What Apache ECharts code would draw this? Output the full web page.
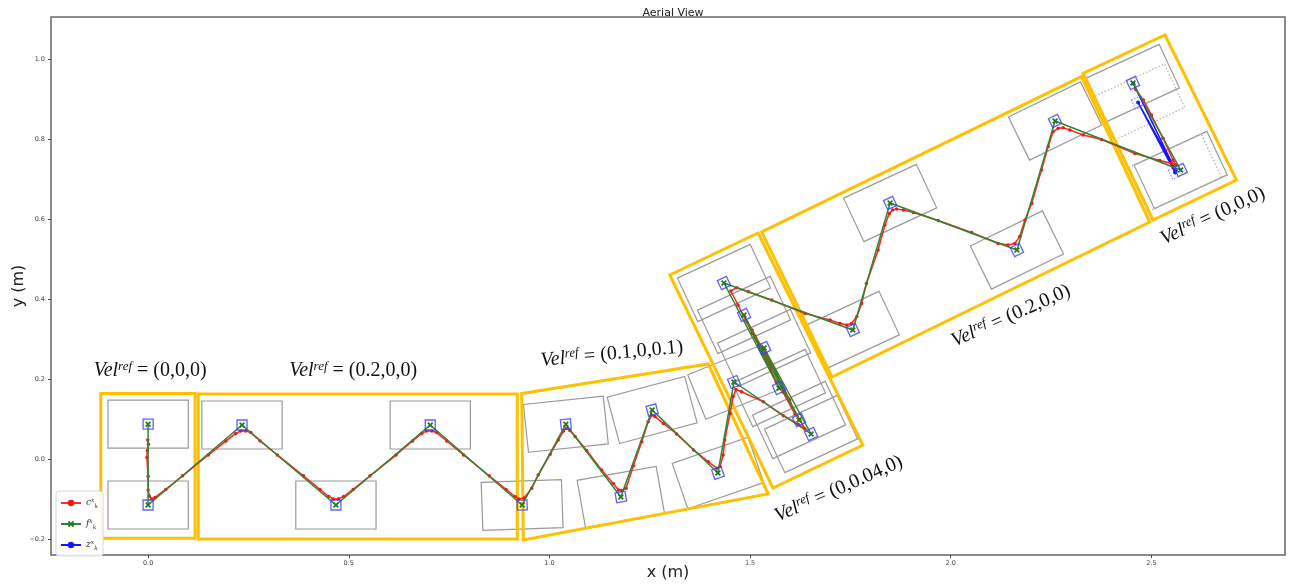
<!DOCTYPE html>
<html><head><meta charset="utf-8">
<script src="https://cdn.jsdelivr.net/npm/echarts@6/dist/echarts.min.js"></script>
<style>html,body{margin:0;padding:0;background:#fff}#c{width:1290px;height:586px}</style>
</head><body><div id="c"></div><script>
// ---- data (metres) ----
const X_TICKS = [0, 0.5, 1.0, 1.5, 2.0, 2.5];
const Y_TICKS = [-0.2, 0.0, 0.2, 0.4, 0.6, 0.8, 1.0];

// footstep targets f_k (x, y, yaw in degrees)
const FOOT_X = [0.000, 0.000, 0.234, 0.468, 0.703, 0.932, 1.041, 1.178, 1.256, 1.420, 1.460, 1.652, 1.535, 1.622, 1.485, 1.572, 1.435, 1.756, 1.849, 2.165, 2.260, 2.573, 2.454];
const FOOT_Y = [0.087, -0.115, 0.085, -0.115, 0.085, -0.115, 0.087, -0.095, 0.1225, -0.035, 0.1925, 0.0625, 0.2775, 0.0975, 0.360, 0.1775, 0.440, 0.3225, 0.640, 0.5225, 0.845, 0.7225, 0.940];
const FOOT_YAW = [0, 0, 0, 0, 0, 2, 6, 10, 15, 19, 22, 25, 25, 25, 25, 25, 25, 25, 25, 26, 26, 25, 25];

// CoM trajectory c_k
const COM_X = [-0.001,0.001,-0.002,-0.003,0.000,0.000,0.003,0.009,0.017,0.044,
0.086,0.150,0.194,0.218,0.231,0.243,0.256,0.279,0.322,0.387,
0.428,0.450,0.462,0.474,0.487,0.511,0.553,0.618,0.659,0.682,
0.694,0.707,0.719,0.744,0.786,0.850,0.892,0.914,0.924,0.937,
0.956,0.972,1.002,1.022,1.035,1.043,1.051,1.064,1.093,1.130,
1.159,1.172,1.180,1.191,1.209,1.230,1.246,1.255,1.263,1.284,
1.317,1.359,1.396,1.417,1.425,1.433,1.437,1.450,1.458,1.465,
1.479,1.533,1.583,1.620,1.637,
1.624,1.587,1.550,1.540,1.550,1.582,1.612,1.599,1.555,1.505,
1.492,1.512,1.540,1.565,1.550,1.505,1.470,1.452,
1.467,1.496,1.554,1.637,1.699,1.724,1.741,1.753,1.766,1.778,
1.790,1.819,1.836,1.847,1.855,1.865,1.882,1.907,1.969,2.052,
2.118,2.143,2.160,2.172,2.185,2.202,2.226,2.243,2.255,2.268,
2.280,2.297,2.330,2.376,2.459,2.521,2.550,2.561,2.554,2.529,
2.500,2.480,2.461];
const COM_Y = [0.0475,0.037,0.021,0.004,-0.044,-0.0775,-0.0925,-0.100,-0.096,-0.076,
-0.042,0.010,0.045,0.064,0.070,0.070,0.066,0.045,0.010,-0.042,
-0.076,-0.094,-0.100,-0.100,-0.094,-0.076,-0.042,0.010,0.045,0.064,
0.070,0.070,0.066,0.045,0.010,-0.042,-0.076,-0.094,-0.100,-0.0975,
-0.073,-0.040,0.012,0.0475,0.070,0.077,0.071,0.056,0.021,-0.0275,
-0.061,-0.0775,-0.079,-0.073,-0.0175,0.043,0.093,0.110,0.106,0.089,
0.0625,0.0225,-0.007,-0.023,-0.019,0.010,0.0475,0.114,0.156,0.174,
0.168,0.143,0.108,0.087,0.075,
0.0975,0.165,0.235,0.2625,0.2425,0.1675,0.1125,0.1475,0.2325,0.3225,
0.3425,0.3075,0.2475,0.1925,0.2275,0.315,0.385,0.420,
0.428,0.418,0.3975,0.364,0.3475,0.339,0.335,0.339,0.356,0.389,
0.439,0.5225,0.585,0.614,0.6225,0.625,0.6225,0.616,0.596,0.566,
0.539,0.535,0.539,0.556,0.5975,0.639,0.7225,0.781,0.818,0.827,
0.828,0.8225,0.810,0.799,0.764,0.746,0.739,0.735,0.7475,0.802,
0.860,0.8975,0.924];

// z_k (final stop)
const ZMP_X = [2.455, 2.561, 2.467, 2.559];
const ZMP_Y = [0.939, 0.720, 0.891, 0.716];
// planned (dotted) regions
const PLAN_X = [2.467, 2.559];
const PLAN_Y = [0.891, 0.716];
const PLAN_YAW = [25, 25];

const REGION_W = 0.2, REGION_H = 0.12;

// annotation boxes: 4 corners each (x0,y0,x1,y1,...)
const BOX_STAND_START = [-0.118,0.164, 0.117,0.164, 0.117,-0.198, -0.118,-0.198];
const BOX_FWD_1       = [0.125,0.1625, 0.920,0.1625, 0.920,-0.200, 0.125,-0.200];
const BOX_TURN        = [0.931,0.164, 1.396,0.2375, 1.545,-0.0875, 0.935,-0.2025];
const BOX_LATERAL     = [1.300,0.460, 1.520,0.565, 1.781,0.035, 1.557,-0.0725];
const BOX_FWD_2       = [1.529,0.568, 2.326,0.956, 2.496,0.5925, 1.704,0.205];
const BOX_STAND_END   = [2.330,0.964, 2.534,1.060, 2.712,0.6975, 2.504,0.5975];

const VEL_LABELS = ['(0,0,0)', '(0.2,0,0)', '(0.1,0,0.1)', '(0,0.04,0)', '(0.2,0,0)', '(0,0,0)'];
const LABEL_X = [0.005, 0.511, 1.156, 1.721, 2.150, 2.653];
const LABEL_Y = [0.220, 0.220, 0.2625, -0.075, 0.3575, 0.6075];
const LABEL_ROT = [0, 0, 5.5, 24, 24, 25];

// ---- build ----
const pairs = (xs, ys) => xs.map((x, i) => [x, ys[i]]);
const X_PATH = 'path://M2,0L5,3L8,0L10,2L7,5L10,8L8,10L5,7L2,10L0,8L3,5L0,2Z';

function regionSeries(xs, ys, yaws, stroke, dash, z) {
  return {
    type: 'custom', z, silent: true, clip: false,
    data: xs.map((x, i) => [x, ys[i], yaws[i]]),
    encode: { x: 0, y: 1 },
    renderItem(params, api) {
      const cx = api.value(0), cy = api.value(1), a = api.value(2) * Math.PI / 180;
      const c = Math.cos(a), s = Math.sin(a), hw = REGION_W / 2, hh = REGION_H / 2;
      const pts = [[-hw,-hh],[hw,-hh],[hw,hh],[-hw,hh]].map(([u, v]) => api.coord([cx + u*c - v*s, cy + u*s + v*c]));
      return { type: 'polygon', shape: { points: pts }, style: { fill: 'none', stroke, lineWidth: 1.2, lineDash: dash } };
    }
  };
}

const BOXES = [BOX_STAND_START, BOX_FWD_1, BOX_TURN, BOX_LATERAL, BOX_FWD_2, BOX_STAND_END];

const chart = echarts.init(document.getElementById('c'), null, { renderer: 'canvas' });
const tickFmt = v => v.toFixed(1).replace('-', '\u2212');

chart.setOption({
  animation: false,
  backgroundColor: '#fff',
  title: { text: 'Aerial View', left: 668, top: 3, textAlign: 'center',
    textStyle: { fontSize: 11, fontWeight: 'normal', color: '#222', fontFamily: 'DejaVu Sans' } },
  grid: { left: 51, right: 5, top: 17, bottom: 31, outerBoundsMode: 'none', containLabel: false,
    show: true, borderColor: '#666', borderWidth: 1.5, backgroundColor: 'transparent' },
  xAxis: {
    type: 'value', min: -0.242, max: 2.833,
    name: 'x (m)', nameLocation: 'middle', nameGap: 10, nameMoveOverlap: false,
    nameTextStyle: { fontSize: 16, color: '#222', fontFamily: 'DejaVu Sans' },
    axisLine: { show: false, onZero: false }, splitLine: { show: false },
    axisTick: { show: true, customValues: X_TICKS, length: 3, lineStyle: { color: '#444' } },
    axisLabel: { customValues: X_TICKS, formatter: tickFmt, fontSize: 6.5, color: '#444', margin: 5, fontFamily: 'DejaVu Sans' }
  },
  yAxis: {
    type: 'value', min: -0.24, max: 1.105,
    name: 'y (m)', nameLocation: 'middle', nameGap: 24, nameRotate: 90, nameMoveOverlap: false,
    nameTextStyle: { fontSize: 16, color: '#222', fontFamily: 'DejaVu Sans' },
    axisLine: { show: false, onZero: false }, splitLine: { show: false },
    axisTick: { show: true, customValues: Y_TICKS, length: 3, lineStyle: { color: '#444' } },
    axisLabel: { customValues: Y_TICKS, formatter: tickFmt, fontSize: 6.5, color: '#444', margin: 6, fontFamily: 'DejaVu Sans' }
  },
  legend: {
    data: ['c', 'f', 'z'], orient: 'vertical', left: 56, top: 491,
    itemWidth: 20, itemHeight: 8, itemGap: 9, padding: [6, 5, 5, 4],
    borderColor: '#d8d8d8', borderWidth: 1, borderRadius: 3, backgroundColor: 'rgba(255,255,255,0.9)',
    formatter: n => `{m|${n}}{s|x}{b|k}`,
    textStyle: { rich: {
      m: { fontSize: 9, fontStyle: 'italic', fontFamily: 'DejaVu Serif', color: '#333', lineHeight: 12 },
      s: { fontSize: 6, fontStyle: 'italic', fontFamily: 'DejaVu Serif', color: '#333', verticalAlign: 'top', lineHeight: 6 },
      b: { fontSize: 6, fontStyle: 'italic', fontFamily: 'DejaVu Serif', color: '#333', verticalAlign: 'bottom', lineHeight: 6 }
    } }
  },
  series: [
    regionSeries(FOOT_X, FOOT_Y, FOOT_YAW, '#9a9a9a', null, 1),
    regionSeries(PLAN_X, PLAN_Y, PLAN_YAW, '#b0b0b0', [1.5, 2], 1),
    {
      type: 'custom', z: 2, silent: true, clip: false,
      data: BOXES,
      encode: { x: [0, 2, 4, 6], y: [1, 3, 5, 7] },
      renderItem(params, api) {
        const pts = [0, 1, 2, 3].map(k => api.coord([api.value(2*k), api.value(2*k+1)]));
        return { type: 'polygon', shape: { points: pts }, style: { fill: 'none', stroke: '#ffc000', lineWidth: 3 } };
      }
    },
    {
      name: 'z', type: 'line', z: 3, data: pairs(ZMP_X, ZMP_Y),
      symbol: 'circle', symbolSize: 4, showAllSymbol: true,
      itemStyle: { color: '#1515ff' }, lineStyle: { color: '#1515ff', width: 1.6 }
    },
    {
      name: 'c', type: 'line', z: 4, data: pairs(COM_X, COM_Y),
      symbol: 'circle', symbolSize: 3.5, showAllSymbol: true,
      itemStyle: { color: '#f01818' }, lineStyle: { color: '#ff2a2a', width: 1.6 }
    },
    {
      name: 'f', type: 'line', z: 5, data: pairs(FOOT_X, FOOT_Y),
      symbol: X_PATH, symbolSize: 6, showAllSymbol: true,
      itemStyle: { color: '#1f7a1f' }, lineStyle: { color: '#2f862f', width: 1.5 }
    },
    {
      type: 'scatter', z: 6, silent: true, data: pairs(FOOT_X, FOOT_Y),
      symbol: 'rect', symbolSize: 10,
      symbolRotate: (v, p) => FOOT_YAW[p.dataIndex],
      itemStyle: { color: 'rgba(0,0,0,0)', borderColor: '#3a3aff', borderWidth: 1.3 }
    },
    {
      type: 'scatter', z: 6, silent: true, data: pairs(PLAN_X, PLAN_Y),
      symbol: 'rect', symbolSize: 10,
      symbolRotate: (v, p) => PLAN_YAW[p.dataIndex],
      itemStyle: { color: 'rgba(0,0,0,0)', borderColor: '#6060ff', borderWidth: 1, borderType: [1.5, 1.5] }
    },
    {
      type: 'custom', z: 7, silent: true, clip: false,
      data: LABEL_X.map((x, i) => [x, LABEL_Y[i], LABEL_ROT[i], i]),
      encode: { x: 0, y: 1 },
      renderItem(params, api) {
        const p = api.coord([api.value(0), api.value(1)]);
        const lbl = VEL_LABELS[api.value(3)];
        return {
          type: 'text', x: p[0], y: p[1], rotation: api.value(2) * Math.PI / 180,
          style: {
            text: '{v|Vel}{s|ref}{n| = ' + lbl + '}',
            align: 'center', verticalAlign: 'middle',
            rich: {
              v: { fontSize: 20, fontStyle: 'italic', fontFamily: 'Liberation Serif', fill: '#111', lineHeight: 22 },
              s: { fontSize: 13, fontStyle: 'italic', fontFamily: 'Liberation Serif', fill: '#111', lineHeight: 13, verticalAlign: 'top' },
              n: { fontSize: 20, fontFamily: 'Liberation Serif', fill: '#111', lineHeight: 22 }
            }
          }
        };
      }
    }
  ]
});
</script></body></html>
